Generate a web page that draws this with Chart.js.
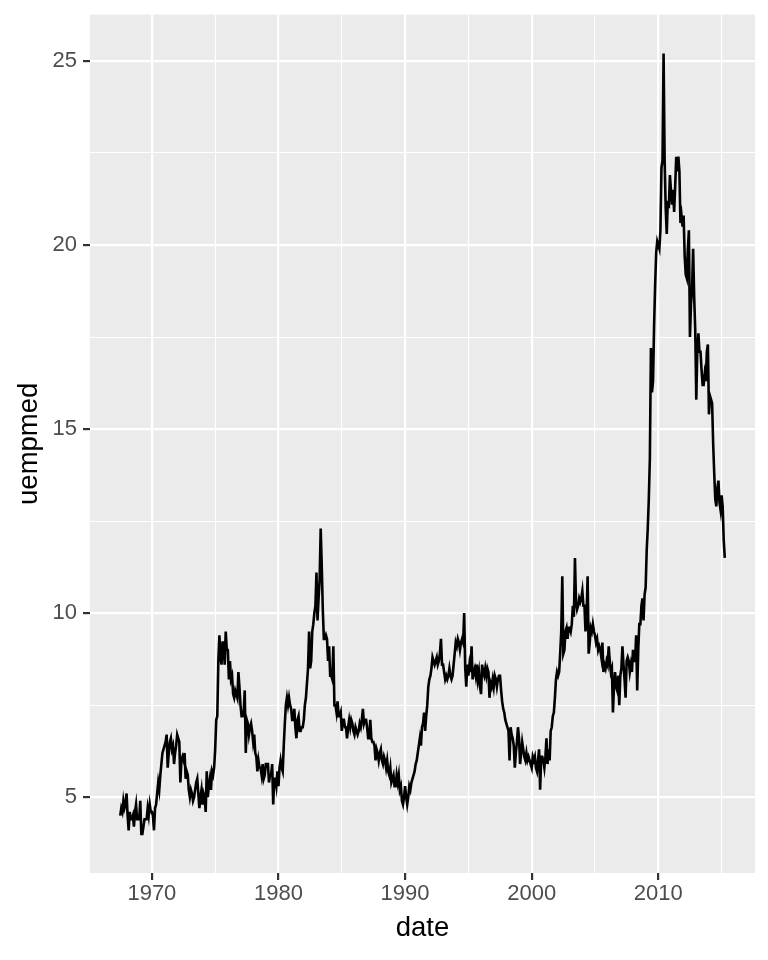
<!DOCTYPE html>
<html>
<head>
<meta charset="utf-8">
<script src="https://cdn.jsdelivr.net/npm/chart.js@4.4.1/dist/chart.umd.min.js"></script>
<style>
  html, body { margin: 0; padding: 0; background: #ffffff; }
  canvas { display: block; }
</style>
</head>
<body>
<canvas id="uempChart" width="768" height="960"></canvas>
<script>
// economics: median duration of unemployment (weeks), monthly from 1967-07
const startYear = 1967;
const startMonth = 7;

const uempmed = [
  4.5, 4.7, 4.6, 4.9, 4.7, 4.8,                                   // 1967
  5.1, 4.5, 4.1, 4.6, 4.4, 4.4, 4.5, 4.2, 4.6, 4.8, 4.4, 4.4,     // 1968
  4.4, 4.9, 4.0, 4.0, 4.2, 4.4, 4.4, 4.4, 4.7, 4.5, 4.8, 4.6,     // 1969
  4.6, 4.5, 4.1, 4.7, 4.8, 5.1, 5.4, 5.2, 5.6, 5.9, 6.2, 6.3,     // 1970
  6.4, 6.5, 6.7, 5.8, 6.2, 6.5, 6.6, 6.3, 6.4, 5.9, 6.2, 6.4,     // 1971
  6.7, 6.6, 6.5, 5.4, 6.0, 6.1, 6.0, 6.2, 5.5, 5.7, 5.6, 5.2,     // 1972
  5.0, 5.2, 5.1, 4.9, 5.0, 5.2, 5.4, 5.5, 5.1, 4.7, 5.0, 5.2,     // 1973
  4.8, 5.1, 5.0, 4.6, 5.7, 5.0, 5.3, 5.5, 5.2, 5.7, 5.6, 5.8,     // 1974
  6.3, 7.1, 7.2, 8.7, 9.4, 8.8, 8.6, 9.2, 9.2, 8.6, 9.5, 9.0,     // 1975
  9.0, 8.2, 8.7, 8.2, 8.3, 7.8, 7.7, 7.9, 7.8, 7.7, 8.4, 8.0,     // 1976
  7.5, 7.2, 7.2, 7.3, 7.9, 6.2, 7.1, 7.0, 6.7, 6.9, 7.0, 6.8,     // 1977
  6.5, 6.7, 6.2, 6.1, 5.7, 6.0, 5.8, 5.8, 5.6, 5.9, 5.5, 5.6,     // 1978
  5.9, 5.9, 5.9, 5.4, 5.6, 5.6, 5.9, 4.8, 5.5, 5.5, 5.3, 5.7,     // 1979
  5.3, 5.8, 6.0, 5.8, 5.7, 6.4, 7.0, 7.5, 7.7, 7.5, 7.7, 7.5,     // 1980
  7.4, 7.1, 7.1, 7.4, 6.9, 6.6, 7.1, 7.2, 6.8, 6.8, 6.9, 6.9,     // 1981
  7.1, 7.5, 7.7, 8.1, 8.5, 9.5, 8.5, 8.7, 9.5, 9.7, 10.0, 10.2,   // 1982
  11.1, 9.8, 10.4, 10.9, 12.3, 11.3, 10.1, 9.3, 9.3, 9.4, 9.3, 8.7, // 1983
  9.1, 8.3, 8.3, 8.2, 9.1, 7.5, 7.5, 7.3, 7.6, 7.2, 7.2, 7.3,     // 1984
  6.8, 7.1, 7.1, 6.9, 6.9, 6.6, 6.9, 7.1, 6.9, 7.1, 7.0, 6.8,     // 1985
  6.7, 6.9, 6.8, 6.7, 6.8, 7.0, 6.9, 7.1, 7.4, 7.0, 7.1, 7.1,     // 1986
  6.9, 6.6, 6.6, 7.1, 6.6, 6.5, 6.5, 6.4, 6.0, 6.3, 6.2, 6.0,     // 1987
  6.2, 6.3, 6.0, 5.9, 6.1, 6.0, 5.8, 6.0, 5.7, 5.6, 5.8, 5.4,     // 1988
  5.5, 5.6, 5.3, 5.3, 5.6, 5.4, 5.6, 5.2, 5.3, 4.9, 4.8, 5.0,     // 1989
  5.3, 5.0, 4.8, 5.0, 5.3, 5.2, 5.4, 5.5, 5.6, 5.7, 5.9, 6.0,     // 1990
  6.2, 6.4, 6.6, 6.4, 6.9, 7.0, 7.3, 6.8, 7.2, 7.5, 8.0, 8.2,     // 1991
  8.3, 8.5, 8.8, 8.7, 8.6, 8.7, 8.8, 8.6, 8.7, 8.9, 9.3, 8.6,     // 1992
  8.6, 8.4, 8.2, 8.3, 8.2, 8.3, 8.5, 8.3, 8.2, 8.3, 8.6, 8.9,     // 1993
  9.2, 9.1, 9.3, 9.2, 9.0, 9.2, 9.3, 9.2, 10.0, 8.5, 8.0, 8.6,    // 1994
  8.3, 8.6, 8.4, 9.1, 8.2, 8.4, 8.5, 8.3, 8.6, 8.2, 8.4, 8.0,     // 1995
  7.8, 8.6, 8.4, 8.3, 8.5, 8.3, 8.5, 8.4, 7.7, 8.1, 8.0, 8.2,     // 1996
  8.0, 8.3, 8.2, 8.0, 8.2, 8.3, 8.3, 7.9, 7.6, 7.4, 7.3, 7.1,     // 1997
  7.0, 6.9, 6.8, 6.0, 6.9, 6.7, 6.6, 6.4, 5.8, 6.2, 6.5, 6.9,     // 1998
  6.6, 5.9, 6.2, 6.5, 6.3, 6.1, 6.0, 6.2, 6.0, 6.1, 6.0, 5.9,     // 1999
  5.8, 6.1, 6.0, 6.1, 5.8, 5.7, 6.0, 6.3, 5.2, 6.1, 6.1, 6.0,     // 2000
  5.8, 6.1, 6.6, 5.9, 6.3, 6.0, 6.8, 6.9, 7.2, 7.3, 7.7, 8.2,     // 2001
  8.4, 8.3, 8.4, 8.9, 9.5, 11.0, 8.9, 9.0, 9.5, 9.6, 9.3, 9.6,    // 2002
  9.6, 9.5, 9.7, 10.2, 9.9, 11.5, 10.3, 10.1, 10.2, 10.4, 10.3, 10.4, // 2003
  10.6, 10.2, 10.2, 9.5, 9.9, 11.0, 8.9, 9.2, 9.6, 9.5, 9.7, 9.5, // 2004
  9.4, 9.2, 9.3, 9.0, 9.1, 9.0, 8.8, 9.2, 8.4, 8.6, 8.5, 8.7,     // 2005
  8.6, 9.1, 8.7, 8.4, 8.5, 7.3, 8.0, 8.4, 8.0, 7.9, 8.3, 7.5,     // 2006
  8.3, 8.5, 9.1, 8.6, 8.2, 7.7, 8.7, 8.8, 8.7, 8.4, 8.6, 8.4,     // 2007
  9.0, 8.7, 8.7, 9.4, 7.9, 9.0, 9.7, 9.7, 10.2, 10.4, 9.8, 10.5,  // 2008
  10.7, 11.7, 12.3, 13.1, 14.2, 17.2, 16.0, 16.3, 17.8, 18.9, 19.8, 20.1, // 2009
  20.0, 19.9, 20.4, 22.1, 22.3, 25.2, 22.3, 21.0, 20.3, 21.2, 21.0, 21.9, // 2010
  21.5, 21.1, 21.5, 20.9, 21.6, 22.4, 22.0, 22.4, 22.0, 20.6, 20.8, 20.5, // 2011
  20.8, 19.7, 19.2, 19.1, 19.9, 20.4, 17.5, 18.4, 18.8, 19.9, 18.6, 17.7, // 2012
  15.8, 17.2, 17.6, 17.1, 17.1, 16.6, 16.2, 16.2, 16.5, 16.3, 17.1, 17.3, // 2013
  15.4, 15.9, 15.8, 15.7, 14.6, 13.8, 13.1, 12.9, 13.4, 13.6, 13.0, 12.8, // 2014
  13.2, 12.9, 12.0, 11.5                                          // 2015
];

const xMajorTicks = [1970, 1980, 1990, 2000, 2010];
const xMinorTicks = [1975, 1985, 1995, 2005, 2015];
const yMajorTicks = [5, 10, 15, 20, 25];
const yMinorTicks = [7.5, 12.5, 17.5, 22.5];

if (uempmed.length !== 574) {
    throw new Error('uempmed has ' + uempmed.length + ' values, expected 574');
}

// month index -> decimal year (date axis)
const points = uempmed.map((v, i) => ({
    x: startYear + (startMonth - 1 + i) / 12,
    y: v
}));

// ggplot style 5% expansion on both axes
const xLo = points[0].x, xHi = points[points.length - 1].x;
const yLo = Math.min(...uempmed), yHi = Math.max(...uempmed);
const xPad = (xHi - xLo) * 0.05, yPad = (yHi - yLo) * 0.05;

const FONT = '"Liberation Sans", Arial, Helvetica, sans-serif';

const panelBackground = {
    id: 'panelBackground',
    beforeDraw(chart) {
        const a = chart.chartArea;
        const ctx = chart.ctx;
        ctx.save();
        ctx.fillStyle = '#EBEBEB';
        ctx.fillRect(a.left, a.top, a.right - a.left, a.bottom - a.top);
        ctx.restore();
    }
};

function tickList(major, minor, lo, hi) {
    return major.concat(minor)
        .filter(v => v >= lo && v <= hi)
        .sort((a, b) => a - b)
        .map(v => ({ value: v }));
}

function isMajor(list, v) {
    return list.indexOf(v) !== -1;
}

const ctx = document.getElementById('uempChart').getContext('2d');
new Chart(ctx, {
    type: 'line',
    data: {
        datasets: [{
            label: 'uempmed',
            data: points,
            borderColor: '#000000',
            borderWidth: 2.6,
            pointRadius: 0,
            tension: 0,
            fill: false
        }]
    },
    plugins: [panelBackground],
    options: {
        responsive: false,
        animation: false,
        parsing: false,
        normalized: true,
        devicePixelRatio: 1,
        layout: {
            padding: { top: 14.6, right: 13, bottom: 0, left: 0 }
        },
        plugins: {
            legend: { display: false },
            tooltip: { enabled: false }
        },
        scales: {
            x: {
                type: 'linear',
                min: xLo - xPad,
                max: xHi + xPad,
                afterBuildTicks: function(scale) {
                    scale.ticks = tickList(xMajorTicks, xMinorTicks, scale.min, scale.max);
                },
                afterFit: function(scale) {
                    scale.height = 87;
                    scale.paddingLeft = 0;
                    scale.paddingRight = 0;
                },
                border: { display: false },
                grid: {
                    color: '#FFFFFF',
                    lineWidth: c => isMajor(xMajorTicks, c.tick.value) ? 2.2 : 1.1,
                    drawTicks: true,
                    tickLength: 7,
                    tickColor: c => isMajor(xMajorTicks, c.tick.value) ? '#333333' : 'rgba(0,0,0,0)',
                    tickWidth: 2.2
                },
                ticks: {
                    autoSkip: false,
                    maxRotation: 0,
                    padding: 1,
                    color: '#4D4D4D',
                    font: { family: FONT, size: 22 },
                    callback: function(value) {
                        return isMajor(xMajorTicks, value) ? String(value) : '';
                    }
                },
                title: {
                    display: true,
                    text: 'date',
                    color: '#000000',
                    font: { family: FONT, size: 27.5 },
                    padding: { top: 0, bottom: 15 }
                }
            },
            y: {
                type: 'linear',
                min: yLo - yPad,
                max: yHi + yPad,
                afterBuildTicks: function(scale) {
                    scale.ticks = tickList(yMajorTicks, yMinorTicks, scale.min, scale.max);
                },
                afterFit: function(scale) {
                    scale.width = 90;
                    scale.paddingTop = 0;
                    scale.paddingBottom = 0;
                },
                border: { display: false },
                grid: {
                    color: '#FFFFFF',
                    lineWidth: c => isMajor(yMajorTicks, c.tick.value) ? 2.2 : 1.1,
                    drawTicks: true,
                    tickLength: 7,
                    tickColor: c => isMajor(yMajorTicks, c.tick.value) ? '#333333' : 'rgba(0,0,0,0)',
                    tickWidth: 2.2
                },
                ticks: {
                    autoSkip: false,
                    padding: 6,
                    color: '#4D4D4D',
                    font: { family: FONT, size: 22 },
                    callback: function(value) {
                        return isMajor(yMajorTicks, value) ? String(value) : '';
                    }
                },
                title: {
                    display: true,
                    text: 'uempmed',
                    color: '#000000',
                    font: { family: FONT, size: 27.5 },
                    padding: { top: 13, bottom: 0 }
                }
            }
        }
    }
});
</script>
</body>
</html>
